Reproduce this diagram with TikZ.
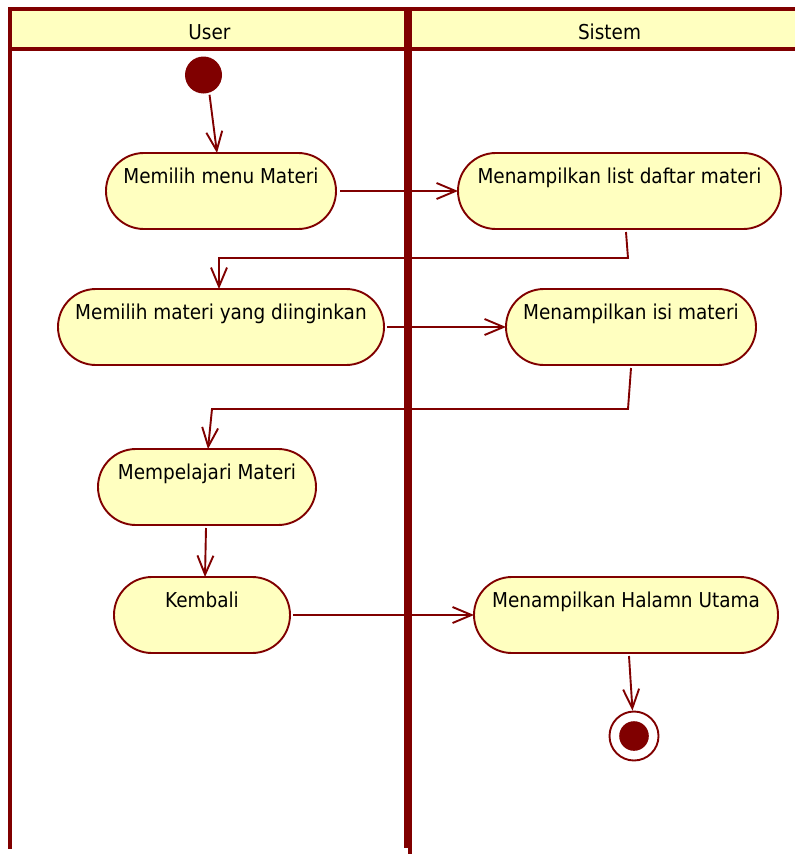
\documentclass[tikz,border=0pt]{standalone}
\usepackage{fontspec}
\setmainfont{DejaVu Sans Condensed}
\usetikzlibrary{arrows.meta,calc}
\definecolor{lanered}{RGB}{128,0,0}
\definecolor{cream}{RGB}{255,255,192}
\tikzset{
  frame/.style={draw=lanered, line width=4pt},
  act/.style={draw=lanered, fill=cream, line width=1.9pt, rounded corners=37.9pt,
    inner sep=0pt, outer sep=0pt, text height=30pt, text depth=46pt,
    font=\fontsize{20.5}{24}\selectfont},
  lanetitle/.style={anchor=base, inner sep=0pt, font=\fontsize{20.5}{24}\selectfont},
  flow/.style={draw=lanered, line width=1.9pt, -{Straight Barb[length=19pt,width=16pt]}},
}
\begin{document}
\begin{tikzpicture}[x=1pt,y=-1pt]
\useasboundingbox (0,0) rectangle (795,854);

% swimlane headers
\fill[cream] (10,9) rectangle (795,49);
\node[lanetitle] (userhd) at (209.5,39.5) {User};
\node[lanetitle] (sishd) at (609.5,39.5) {Sistem};

% activities
\fill[lanered] (203.5,75) circle (18.5);
\node[circle, minimum size=37pt, inner sep=0pt] (start) at (203.5,75) {};

\node[act, minimum width=230pt] (m1) at (221,191) {Memilih menu Materi};
\node[act, minimum width=323pt] (s1) at (619.5,191) {Menampilkan list daftar materi};
\node[act, minimum width=326pt] (m2) at (221,327) {Memilih materi yang diinginkan};
\node[act, minimum width=250pt] (s2) at (631,327) {Menampilkan isi materi};
\node[act, minimum width=218pt] (m3) at (207,487) {Mempelajari Materi};
\node[act, minimum width=176pt] (m4) at (202,615) {Kembali};
\node[act, minimum width=304pt] (s3) at (626,615) {Menampilkan Halamn Utama};

\node[circle, draw=lanered, line width=1.9pt, minimum size=49pt, inner sep=0pt] (fin) at (634,736) {};
\fill[lanered] (fin.center) circle (14.8);

% control flow
\draw[flow, shorten <=2pt] (start.-72) -- ($(m1.north)+(-4,0)$);
\draw[flow] ($(m1.east)+(4,0)$) -- (s1.west);
\draw[flow] ($(s1.south)+(6.5,3)$) -- ($(s1.south)+(8.5,29)$) -| ($(m2.north)+(-2,0)$);
\draw[flow] ($(m2.east)+(3,0)$) -- (s2.west);
\draw[flow] ($(s2.south)+(0,3)$) -- ($(s2.south)+(-3,44)$) -- ($(m3.north)+(5,-40)$) -- ($(m3.north)+(1,0)$);
\draw[flow] ($(m3.south)+(-1,3)$) -- ($(m4.north)+(3,0)$);
\draw[flow] ($(m4.east)+(3,0)$) -- (s3.west);
\draw[flow] ($(s3.south)+(3,3)$) -- ($(fin.north)+(-1.5,0)$);

% lane borders
\draw[frame] (8,9) -- (795,9);
\draw[frame] (8,49) -- (795,49);
\draw[frame] (10,7) -- (10,849);
\draw[frame] (406,7) -- (406,848);
\draw[frame] (410,7) -- (410,854);
\end{tikzpicture}
\end{document}
